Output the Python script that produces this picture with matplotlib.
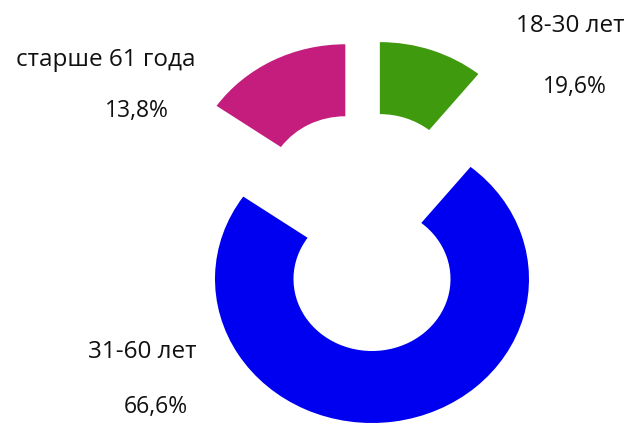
import matplotlib.pyplot as plt

# wedges in drawing order (clockwise from 12 o'clock)
groups = ['18-30 лет', '31-60 лет', 'старше 61 года']
percent_labels = ['19,6%', '66,6%', '13,8%']
# share of the ring each wedge takes in the picture
sizes = [10.8, 73.9, 15.3]
colors = ['#3f9a0e', '#0000f0', '#c41d7e']

fig = plt.figure(figsize=(6.3, 4.23), dpi=100)
ax = fig.add_axes([0, 0, 1, 1])

wedges, _ = ax.pie(sizes, colors=colors, startangle=90, counterclock=False,
                   wedgeprops=dict(width=0.5, linewidth=0))

# the two small wedges are pulled up out of the ring
shifts = [(0.05, 0.645), (0.0, 0.0), (-0.17, 0.63)]
for w, (dx, dy) in zip(wedges, shifts):
    w.set_center((dx, dy))

# 1 unit = 157 px across, 144 px down (picture is squashed a bit)
ax.set_xlim(-372 / 157, 258 / 157)
ax.set_ylim(-1.0, 279 / 144)
ax.set_aspect('auto')
ax.axis('off')

font = 'Open Sans'
fs = 17.5
tc = '#111111'
ax.text(-1.697, 1.52, groups[2], ha='center', va='center', fontsize=fs, family=font, color=tc)
ax.text(-1.50, 1.17, percent_labels[2], ha='center', va='center', fontsize=fs - 1, family=font, color=tc)
ax.text(1.26, 1.76, groups[0], ha='center', va='center', fontsize=fs, family=font, color=tc)
ax.text(1.29, 1.33, percent_labels[0], ha='center', va='center', fontsize=fs - 1, family=font, color=tc)
ax.text(-1.465, -0.51, groups[1], ha='center', va='center', fontsize=fs, family=font, color=tc)
ax.text(-1.375, -0.89, percent_labels[1], ha='center', va='center', fontsize=fs - 1, family=font, color=tc)

fig.savefig('out.png', dpi=100)
